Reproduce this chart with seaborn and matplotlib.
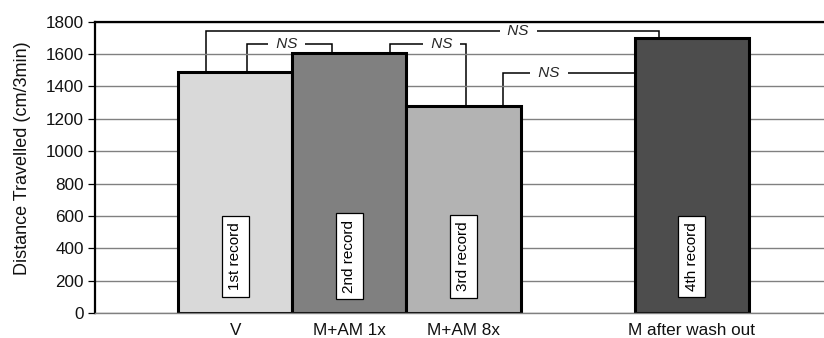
import matplotlib
matplotlib.use("Agg")
import matplotlib.pyplot as plt
import seaborn as sns
import pandas as pd

# Group means (distance travelled in 3 minutes)
groups = ["V", "M+AM 1x", "M+AM 8x", "M after wash out"]
distance = [1490, 1605, 1278, 1700]
records = ["1st record", "2nd record", "3rd record", "4th record"]
bar_colors = ["#d9d9d9", "#808080", "#b3b3b3", "#4d4d4d"]

# Slot order on the x axis (one empty slot before the wash-out group)
slots = ["V", "M+AM 1x", "M+AM 8x", "", "M after wash out"]
y_ticks = list(range(0, 1801, 200))

# Pairwise comparisons: left group, right group, label
pairs_left = ["V", "M+AM 1x", "V", "M+AM 8x"]
pairs_right = ["M+AM 1x", "M+AM 8x", "M after wash out", "M after wash out"]
pair_labels = ["NS", "NS", "NS", "NS"]
pair_heights = [1662, 1662, 1744, 1482]

sns.set_theme(style="white")
plt.rcParams["font.family"] = ["Liberation Sans", "DejaVu Sans"]

df = pd.DataFrame({"group": groups, "distance": distance})

fig = plt.figure(figsize=(8.24, 3.38), dpi=100)
ax = fig.add_axes([95 / 824, 25 / 338, 729 / 824, 291.3 / 338])

sns.barplot(
    data=df, x="group", y="distance", hue="group", order=slots,
    palette=dict(zip(groups, bar_colors)), width=1.0, saturation=1,
    edgecolor="black", linewidth=2.2, legend=False, ax=ax, zorder=2,
)

ax.set_xlim(-1.23, 5.16)
ax.set_ylim(0, 1800)
ax.set_yticks(y_ticks)
ax.set_yticklabels([str(t) for t in y_ticks], fontsize=12.3, color="#111111")
ax.set_xticks([slots.index(g) for g in groups])
ax.set_xticklabels(groups, fontsize=12.3, color="#111111")
ax.set_xlabel("")
ax.set_ylabel("Distance Travelled (cm/3min)", fontsize=13, color="#111111")
ax.yaxis.set_label_coords(-0.088, 0.531)

# gridlines sit above the bracket labels' white boxes but below the bars
ax.set_axisbelow(True)
ax.yaxis.grid(True, color="#808080", linewidth=1.0)
ax.xaxis.grid(False)
ax.tick_params(axis="y", length=5, width=0.9, color="black", pad=3, left=True)
ax.tick_params(axis="x", length=0, pad=7)

ax.spines["right"].set_visible(False)
ax.spines["top"].set_color("black")
ax.spines["top"].set_linewidth(1.6)
ax.spines["left"].set_color("black")
ax.spines["left"].set_linewidth(1.6)
ax.spines["bottom"].set_color("#808080")
ax.spines["bottom"].set_linewidth(1.0)

# Record labels inside each bar
for g, rec in zip(groups, records):
    ax.text(slots.index(g), 350, rec, rotation=90, ha="center", va="center",
            fontsize=11, color="black", zorder=5,
            bbox=dict(boxstyle="square,pad=0.42", facecolor="white",
                      edgecolor="black", linewidth=0.9))

# Significance brackets
left_offsets = [0.10, 0.36, -0.26, 0.35]
right_offsets = [-0.15, 0.02, -0.29, -0.5]
label_x = [0.45, 1.81, 2.48, 2.75]
value_of = dict(zip(groups, distance))
for a, b, lab, h, lo, ro, tx in zip(pairs_left, pairs_right, pair_labels,
                                     pair_heights, left_offsets, right_offsets, label_x):
    x1 = slots.index(a) + lo
    x2 = slots.index(b) + ro
    y1 = value_of[a]
    y2 = min(value_of[b], h)
    ax.plot([x1, x1, x2, x2], [y1, h, h, y2], color="black",
            linewidth=1.1, zorder=0.2, solid_joinstyle="miter")
    ax.text(tx, h, f" {lab} ", ha="center", va="center", fontsize=11,
            style="italic", zorder=0.3,
            bbox=dict(boxstyle="square,pad=0.25", facecolor="white",
                      edgecolor="none"))

fig.savefig("out.png", dpi=100)
